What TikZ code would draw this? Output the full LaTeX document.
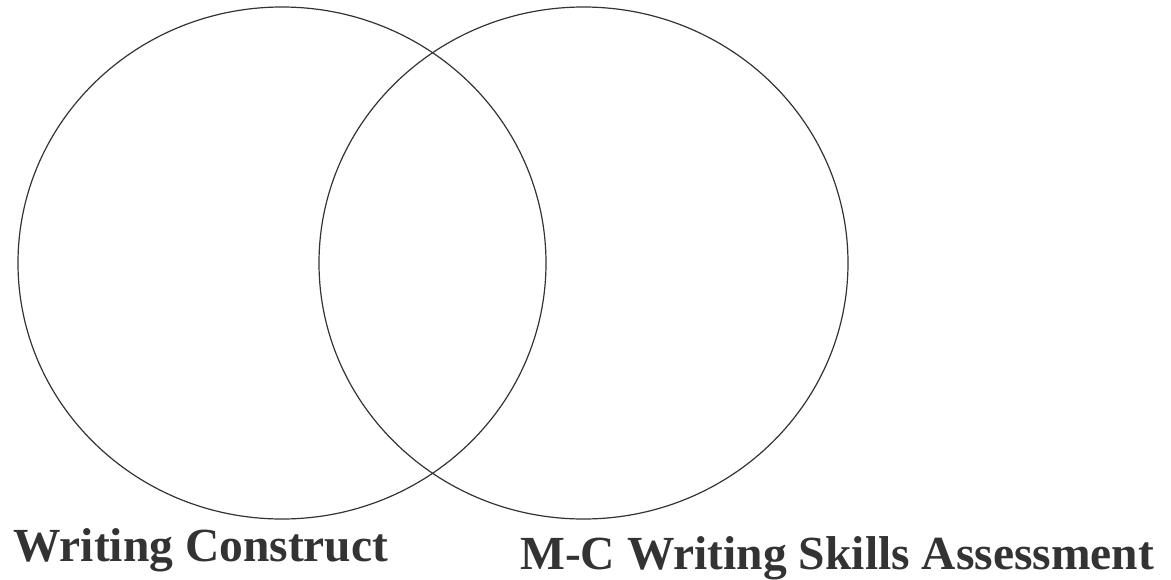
\documentclass[tikz,border=0pt]{standalone}
\usepackage{fontspec}
\setmainfont{Liberation Serif}
\usetikzlibrary{shapes.geometric}
\definecolor{ink}{HTML}{333333}
\tikzset{
  venn/.style={ellipse, draw=ink, line width=1.2pt, inner sep=0pt, outer sep=0pt},
  lbl/.style={anchor=base west, inner sep=0pt, text=ink, font=\fontsize{47.5}{50}\selectfont\bfseries}
}
\begin{document}
\begin{tikzpicture}[x=1pt,y=-1pt]
\useasboundingbox (0,0) rectangle (1171,579);
\node[venn, minimum width=528pt, minimum height=512pt] (left) at (282,263) {};
\node[venn, minimum width=529pt, minimum height=512pt] (right) at (583.5,263) {};
\node[lbl] (lt) at (13,561) {Writing Construct};
\node[lbl] (rt) at (520,569) {M-C Writing Skills Assessment};
\end{tikzpicture}
\end{document}
